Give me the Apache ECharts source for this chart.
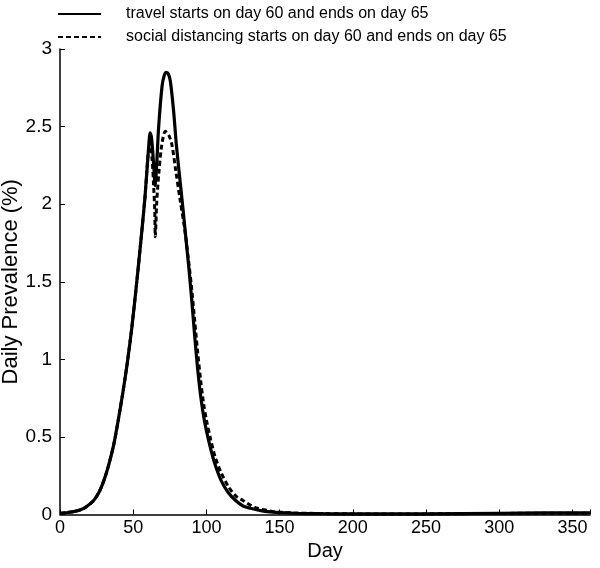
<!DOCTYPE html>
<html>
<head>
<meta charset="utf-8">
<script src="https://cdn.jsdelivr.net/npm/echarts@6/dist/echarts.min.js"></script>
<style>html,body{margin:0;padding:0;background:#fff;}#c{width:600px;height:568px;}</style>
</head>
<body>
<div id="c"></div>
<script>
const legendNames = ['travel starts on day 60 and ends on day 65', 'social distancing starts on day 60 and ends on day 65'];
const xTicks = [0, 50, 100, 150, 200, 250, 300, 350];
const yTicks = [0, 0.5, 1, 1.5, 2, 2.5, 3];

const travelDays = [0,5,10,14,18,23,27,30,33,36.7,40,43,46,49,52,55,58,60.5,61.6,62.6,64,65,66,67.4,69.7,71.2,72.6,74,75.4,77.6,79.5,82,84,86,88,90,92,94,96,98,100,103,106,110,115,120,125,130,140,150,160,180,200,250,300,330,362];
const travelValues = [0.007,0.013,0.02,0.03,0.05,0.09,0.15,0.22,0.31,0.45,0.62,0.79,0.98,1.2,1.46,1.74,2.04,2.36,2.46,2.42,2.25,2.12,2.25,2.5,2.76,2.83,2.85,2.84,2.79,2.6,2.38,2.15,1.97,1.78,1.59,1.38,1.15,0.94,0.77,0.64,0.54,0.42,0.32,0.22,0.14,0.09,0.055,0.04,0.02,0.012,0.008,0.005,0.004,0.004,0.008,0.01,0.01];

const distDays = [0,5,10,14,18,23,27,30,33,36.7,40,43,46,49,52,55,58,60.5,61.5,62.9,64,64.7,65.1,66,67.5,69.5,72,74.5,76.5,79,82,85,88,90,92,94,96,98,100,103,106,110,115,120,125,130,135,140,145,150,160,180,200,250,300,362];
const distValues = [0.007,0.013,0.02,0.03,0.05,0.09,0.15,0.22,0.31,0.45,0.62,0.79,0.98,1.2,1.46,1.74,2.04,2.36,2.40,2.29,2.11,1.96,1.79,2.0,2.2,2.38,2.47,2.44,2.38,2.22,2.03,1.85,1.62,1.45,1.25,1.05,0.87,0.72,0.61,0.48,0.37,0.27,0.18,0.12,0.09,0.06,0.04,0.03,0.02,0.015,0.01,0.006,0.004,0.004,0.007,0.008];

const zip = (a, b) => a.map((v, i) => [v, b[i]]);
const FONT = 'Liberation Sans, Arial, sans-serif';

const chart = echarts.init(document.getElementById('c'), null, {renderer: 'canvas'});
chart.setOption({
  animation: false,
  backgroundColor: '#fff',
  textStyle: {fontFamily: FONT, color: '#000'},
  grid: {left: 60, right: 10, top: 49, bottom: 53.5, containLabel: false, outerBoundsMode: 'none'},
  legend: {
    orient: 'vertical', left: 52, top: 1,
    itemWidth: 43, itemHeight: 14, itemGap: 7,
    data: legendNames,
    itemStyle: {color: 'rgba(0,0,0,0)', borderColor: 'rgba(0,0,0,0)', borderWidth: 0},
    textStyle: {fontFamily: FONT, fontSize: 16, color: '#000', padding: [0, 0, 0, 20]}
  },
  xAxis: {
    type: 'value', min: 0, max: 362, interval: 50,
    name: 'Day', nameLocation: 'middle', nameGap: 27, nameMoveOverlap: false,
    nameTextStyle: {fontFamily: FONT, fontSize: 20, color: '#000'},
    axisLine: {lineStyle: {color: '#000', width: 1.5}},
    axisTick: {inside: true, length: 5, lineStyle: {color: '#000'}},
    axisLabel: {fontFamily: FONT, fontSize: 18, color: '#000', margin: 5,
      formatter: v => xTicks.includes(v) ? String(v) : ''},
    splitLine: {show: false}
  },
  yAxis: {
    type: 'value', min: 0, max: 3, interval: 0.5,
    name: 'Daily Prevalence (%)', nameLocation: 'middle', nameGap: 38, nameRotate: 90, nameMoveOverlap: false,
    nameTextStyle: {fontFamily: FONT, fontSize: 22, color: '#000'},
    axisLine: {show: true, lineStyle: {color: '#000', width: 1.5}},
    axisTick: {show: true, inside: true, length: 5, lineStyle: {color: '#000'}},
    axisLabel: {fontFamily: FONT, fontSize: 19, color: '#000', margin: 8,
      formatter: v => yTicks.includes(v) ? String(v) : ''},
    splitLine: {show: false}
  },
  series: [
    {name: legendNames[0], type: 'line', data: zip(travelDays, travelValues),
     showSymbol: false, symbol: 'none', smooth: 0.3,
     lineStyle: {color: '#000', width: 3.2}, itemStyle: {color: '#000'}},
    {name: legendNames[1], type: 'line', data: zip(distDays, distValues),
     showSymbol: false, symbol: 'none', smooth: 0.3,
     lineStyle: {color: '#000', width: 3, type: [5, 3]}, itemStyle: {color: '#000'}}
  ]
});
</script>
</body>
</html>
